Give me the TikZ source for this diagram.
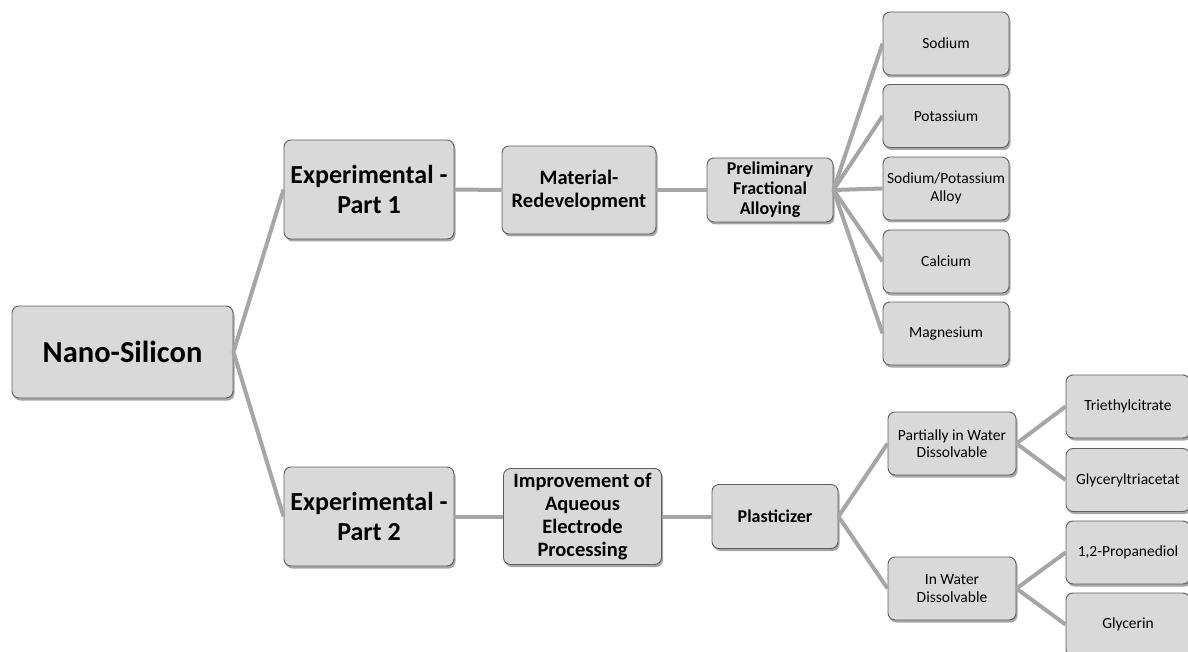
\documentclass[tikz,border=0pt]{standalone}
\usepackage{fontspec}
\setmainfont{Carlito}
\usetikzlibrary{shadows}
\definecolor{boxfill}{HTML}{D9D9D9}
\definecolor{boxborder}{HTML}{5F5F5F}
\definecolor{linkgray}{HTML}{A6A6A6}
\begin{document}
\begin{tikzpicture}[x=1pt,y=-1pt,
  box/.style={draw=boxborder, fill=boxfill, rounded corners=7pt, line width=0.9pt,
    align=center, inner sep=2pt,
    drop shadow={shadow xshift=1.5pt, shadow yshift=-2.5pt, opacity=0.35, fill=black}},
  bigbox/.style={box, font=\bfseries\fontsize{26}{29.5}\selectfont},
  midbox/.style={box, font=\bfseries\fontsize{20.5}{23}\selectfont},
  smallbold/.style={box, font=\bfseries\fontsize{18}{20}\selectfont},
  leaf/.style={box, font=\fontsize{15.5}{17.5}\selectfont, minimum width=126pt, minimum height=63pt},
  link/.style={draw=linkgray, line width=4pt}
]
\useasboundingbox (0,0) rectangle (1188,652);

% nodes
\node[box, font=\bfseries\fontsize{30.5}{34}\selectfont, minimum width=221pt, minimum height=92pt] (nano) at (122.5,352) {Nano-Silicon};
\node[bigbox, minimum width=170pt, minimum height=99pt] (exp1) at (369,189.5) {Experimental -\\Part 1};
\node[bigbox, minimum width=170pt, minimum height=99pt] (exp2) at (369,516.5) {Experimental -\\Part 2};
\node[midbox, minimum width=154pt, minimum height=88pt] (mat) at (579,190) {Material-\\Redevelopment};
\node[midbox, minimum width=158pt, minimum height=96pt] (imp) at (582.5,516.5) {Improvement of\\Aqueous\\Electrode\\Processing};
\node[smallbold, minimum width=126pt, minimum height=64pt] (pre) at (770,190) {Preliminary\\Fractional\\Alloying};
\node[box, font=\bfseries\fontsize{18}{21}\selectfont, minimum width=126pt, minimum height=64pt] (pla) at (775,516.5) {Plasticizer};

\node[leaf] (sod) at (946,43.5) {Sodium};
\node[leaf] (pot) at (946,116) {Potassium};
\node[leaf] (all) at (946,188.5) {Sodium/Potassium\\Alloy};
\node[leaf] (cal) at (946,261.5) {Calcium};
\node[leaf] (mag) at (946,333.5) {Magnesium};

\node[leaf, minimum width=128pt] (par) at (952,443.5) {Partially in Water\\Dissolvable};
\node[leaf, minimum width=128pt] (inw) at (952,588.5) {In Water\\Dissolvable};

\node[leaf, minimum width=124pt] (tri) at (1128,406.5) {Triethylcitrate};
\node[leaf, minimum width=124pt] (gly) at (1128,480) {Glyceryltriacetat};
\node[leaf, minimum width=124pt] (pro) at (1128,552.5) {1,2-Propanediol};
\node[leaf, minimum width=124pt] (gln) at (1128,624.5) {Glycerin};

% connectors
\draw[link] (nano.east) -- (exp1.west);
\draw[link] (nano.east) -- (exp2.west);
\draw[link] (exp1.east) -- (mat.west);
\draw[link] (exp2.east) -- (imp.west);
\draw[link] (mat.east) -- (pre.west);
\draw[link] (imp.east) -- (pla.west);
\foreach \t in {sod,pot,all,cal,mag} \draw[link] (pre.east) -- (\t.west);
\draw[link] (pla.east) -- (par.west);
\draw[link] (pla.east) -- (inw.west);
\draw[link] (par.east) -- (tri.west);
\draw[link] (par.east) -- (gly.west);
\draw[link] (inw.east) -- (pro.west);
\draw[link] (inw.east) -- (gln.west);
\end{tikzpicture}
\end{document}
